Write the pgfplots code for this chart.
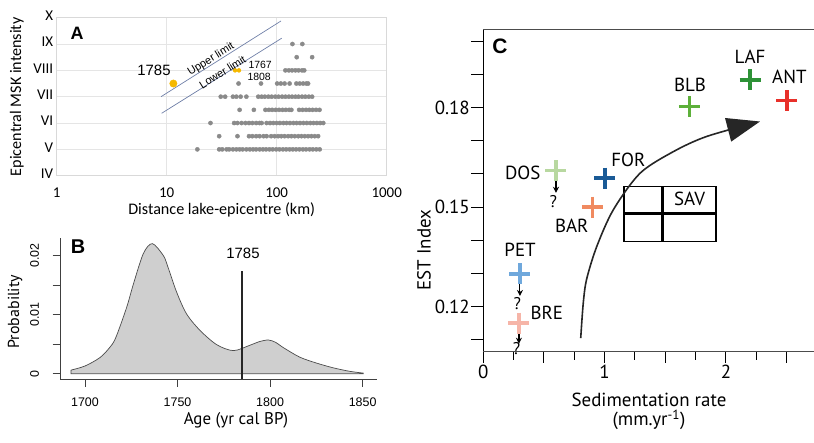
\documentclass[border=0pt]{standalone}
\usepackage{fontspec}
\setmainfont{Liberation Sans}
\newfontfamily\calf{Carlito}
\newfontfamily\myr{PT Sans}
\usepackage{pgfplots}
\pgfplotsset{compat=1.18}
\usetikzlibrary{arrows.meta}
\newcommand\fs[1]{\fontsize{#1}{#1}\selectfont}
\definecolor{pt}{HTML}{8A8A8A}
\definecolor{orng}{HTML}{F5B800}
\definecolor{lim}{HTML}{7080A8}
\definecolor{cLAF}{HTML}{2E9237}
\definecolor{cANT}{HTML}{E8302A}
\definecolor{cBLB}{HTML}{5DB03A}
\definecolor{cFOR}{HTML}{1A5A96}
\definecolor{cDOS}{HTML}{B8D8A0}
\definecolor{cBAR}{HTML}{F08A60}
\definecolor{cPET}{HTML}{6FA8DC}
\definecolor{cBRE}{HTML}{F6B5A8}
\begin{document}
\begin{tikzpicture}[x=1bp,y=1bp]
\useasboundingbox (0,0) rectangle (814,443);
%================ Panel A
\begin{axis}[at={(56.7bp,267.3bp)}, anchor=south west, scale only axis,
  width=330bp, height=158bp, clip=false,
  xmode=log, xmin=1, xmax=1000, ymin=4, ymax=10,
  xtick={1,10,100,1000}, xticklabels={1,10,100,1000},
  ytick={4,5,6,7,8,9,10}, yticklabels={IV,V,VI,VII,VIII,IX,X},
  major tick length=0pt, minor tick length=0pt,
  grid=major, major grid style={draw=gray!20, line width=0.6bp},
  axis line style={draw=gray!30, line width=0.6bp},
  ticklabel style={font=\calf\fs{15}},
  xticklabel style={yshift=-9bp},
  yticklabel style={yshift=2bp},
]
\addplot[only marks, color=pt, mark=*, mark size=2.1bp, mark options={draw=none, fill=pt}] coordinates {
(139,9) (171,9)
(152,8.5) (210,8.5)
(120,8) (129,8) (138,8) (148,8) (158,8) (170,8) (178,8)
(45,7.5) (72,7.5) (101,7.5) (109,7.5) (118,7.5) (131,7.5) (151,7.5) (162,7.5) (174,7.5) (186,7.5) (193,7.5)
(31,7) (34,7) (40,7) (43,7) (47,7) (53,7) (68,7) (73,7) (78,7) (84,7) (90,7) (97,7) (104,7) (112,7) (120,7) (129,7) (138,7) (148,7) (158,7) (170,7) (182,7) (196,7) (210,7)
(46,6.5) (62,6.5) (79,6.5) (85,6.5) (91,6.5) (98,6.5) (105,6.5) (113,6.5) (121,6.5) (130,6.5) (136,6.5) (160,6.5) (172,6.5) (185,6.5) (198,6.5) (212,6.5) (228,6.5) (245,6.5)
(25,6) (41,6) (44,6) (48,6) (52,6) (56,6) (60,6) (65,6) (70,6) (73,6) (81,6) (87,6) (93,6) (100,6) (107,6) (115,6) (123,6) (132,6) (142,6) (152,6) (163,6) (175,6) (188,6) (202,6) (216,6) (232,6) (248,6) (265,6)
(30,5.5) (44,5.5) (56,5.5) (60,5.5) (65,5.5) (70,5.5) (76,5.5) (81,5.5) (89,5.5) (96,5.5) (103,5.5) (110,5.5) (118,5.5) (127,5.5) (136,5.5) (146,5.5) (157,5.5) (168,5.5) (180,5.5) (193,5.5) (207,5.5) (222,5.5) (238,5.5)
(19,5) (30,5) (32,5) (35,5) (37,5) (40,5) (43,5) (46,5) (49,5) (53,5) (57,5) (61,5) (65,5) (70,5) (75,5) (80,5) (86,5) (92,5) (99,5) (106,5) (114,5) (122,5) (131,5) (140,5) (150,5) (161,5) (173,5) (185,5) (199,5) (213,5) (229,5) (246,5)
};
\addplot[only marks, color=orng, mark=*, mark size=3.7bp, mark options={draw=orng, fill=orng}] coordinates {(11.5,7.5)};
\addplot[only marks, color=orng, mark=*, mark size=2bp, mark options={draw=orng, fill=orng}] coordinates {(41.8,8) (45.4,8)};
\addplot[lim, line width=0.7bp] coordinates {(8.88,7.0) (109.4,9.875)};
\addplot[lim, line width=0.7bp] coordinates {(9.0,6.37) (111,9.22)};
\end{axis}
\node[font=\bfseries\fs{18}] at (77,410) {A};
\node[font=\fs{15}] at (154,373) {1785};
\node[font=\fs{10.5}, anchor=west] at (245,378) {1767};
\node[font=\fs{10.5}, anchor=west] at (244,366.3) {1808};
\node[font=\fs{11}, rotate=32, inner sep=0pt] at (211,383.5) {Upper limit};
\node[font=\fs{11}, rotate=32, inner sep=0pt] at (222.5,371) {Lower limit};
\node[font=\calf\fs{16.2}, rotate=90] at (16.7,346.3) {Epicentral MSK intensity};
\node[font=\calf\fs{16.2}] at (221.7,233) {Distance lake-epicentre (km)};
%================ Panel B
\begin{axis}[at={(60bp,63.7bp)}, anchor=south west, scale only axis,
  width=316.7bp, height=141bp, clip=false,
  xmin=1686.5, xmax=1857.6, ymin=-0.00095, ymax=0.0229,
  axis x line*=bottom, axis y line*=left,
  axis line style={-, line width=0.8bp, draw=black!75},
  tick align=outside, major tick length=7.5bp,
  tick style={line width=0.8bp, draw=black!75},
  xtick={1700,1750,1800,1850}, xticklabels={1700,1750,1800,1850},
  ytick={0,0.005,0.01,0.015,0.02}, yticklabels={0,,0.01,,0.02},
  scaled y ticks=false, scaled x ticks=false,
  ticklabel style={font=\fs{12.5}},
  xticklabel style={yshift=-7bp},
  yticklabel style={rotate=90, anchor=south, yshift=10bp},
]
\addplot[smooth, fill=gray!38, draw=black!70, line width=0.7bp] coordinates {
(1692.4,0.0006) (1700,0.0013) (1708,0.0027) (1713,0.0043) (1716.5,0.0060) (1722.5,0.0112)
(1726,0.0150) (1731.5,0.0203) (1736.4,0.0220) (1742.3,0.0200) (1744.2,0.0186) (1749.5,0.0138)
(1754.9,0.0101) (1762.2,0.0073) (1771.2,0.0049) (1780.2,0.0039) (1789,0.0048) (1794,0.0054)
(1799,0.0057) (1803,0.0053) (1807.2,0.0044) (1816,0.0028) (1825,0.0018) (1834,0.0010)
(1843,0.0004) (1850.3,0.0001)
} \closedcycle;
\addplot[black!85, line width=1.8bp] coordinates {(1784.9,-0.00095) (1784.9,0.0174)};
\end{axis}
\node[font=\bfseries\fs{20}] at (78,196.3) {B};
\node[font=\fs{15}] at (243,189.7) {1785};
\node[font=\myr\fs{16}, rotate=90] at (15,131.3) {Probability};
\node[font=\myr\fs{17}] at (236,23) {Age (yr cal BP)};
%================ Panel C
\begin{axis}[at={(483.3bp,92bp)}, anchor=south west, scale only axis,
  width=330.7bp, height=321.7bp, clip=false,
  xmin=0, xmax=2.726, ymin=0.1066, ymax=0.2036,
  axis x line*=bottom, axis y line*=left,
  x axis line style={-, line width=0.8bp, draw=black!70},
  y axis line style={-, line width=1.3bp, draw=black},
  tick align=outside,
  xtick={0,0.5,1,1.5,2,2.5}, xticklabels={0,,1,,2,},
  minor xtick={0.25,0.75,1.25,1.75,2.25},
  ytick={0.11,0.12,0.13,0.14,0.15,0.16,0.17,0.18,0.19,0.20},
  yticklabels={,0.12,,,0.15,,,0.18,,},
  scaled y ticks=false, scaled x ticks=false,
  x tick style={line width=1bp, black}, y tick style={line width=1bp, black},
  major tick length=12bp, minor tick length=9bp,
  ticklabel style={font=\myr\fs{19}},
  xticklabel style={yshift=1bp},
  yticklabel style={xshift=2bp},
]
\draw[black!70, line width=0.8bp] (rel axis cs:0,1) -- (rel axis cs:1,1);
% SAV box
\draw[line width=1.5bp] (axis cs:1.16,0.1396) rectangle (axis cs:1.918,0.1562);
\draw[line width=2.5bp] (axis cs:1.16,0.148) -- (axis cs:1.918,0.148);
\draw[line width=2.5bp] (axis cs:1.479,0.1396) -- (axis cs:1.479,0.1562);
\node[font=\myr\fs{19}] at (axis cs:1.70,0.1524) {SAV};
% curve
\addplot[smooth, line width=1.6bp, draw=black!85, -{Triangle[length=33bp, width=24bp]}] coordinates {
(0.803,0.1105) (0.824,0.1211) (0.852,0.1283) (0.935,0.1381) (1.072,0.1492) (1.292,0.1602) (1.566,0.1667) (1.842,0.1713) (2.281,0.1758)
};
% points
\addplot[only marks, mark=+, mark size=10.5bp, mark options={line width=3.6bp}, color=cLAF] coordinates {(2.199,0.1884)};
\addplot[only marks, mark=+, mark size=10.5bp, mark options={line width=3.6bp}, color=cANT] coordinates {(2.501,0.1821)};
\addplot[only marks, mark=+, mark size=10.5bp, mark options={line width=3.6bp}, color=cBLB] coordinates {(1.698,0.1803)};
\addplot[only marks, mark=+, mark size=10.5bp, mark options={line width=3.6bp}, color=cFOR] coordinates {(1.003,0.1587)};
\addplot[only marks, mark=+, mark size=10.5bp, mark options={line width=3.6bp}, color=cDOS] coordinates {(0.599,0.1610)};
\addplot[only marks, mark=+, mark size=10.5bp, mark options={line width=3.6bp}, color=cBAR] coordinates {(0.899,0.1500)};
\addplot[only marks, mark=+, mark size=10.5bp, mark options={line width=3.6bp}, color=cPET] coordinates {(0.302,0.1299)};
\addplot[only marks, mark=+, mark size=10.5bp, mark options={line width=3.6bp}, color=cBRE] coordinates {(0.294,0.1150)};
% small arrows
\draw[-{Stealth[length=6bp,width=6bp]}, line width=1.1bp] (axis cs:0.599,0.1590) -- (axis cs:0.599,0.1543);
\draw[-{Stealth[length=6bp,width=6bp]}, line width=1.1bp] (axis cs:0.302,0.1273) -- (axis cs:0.302,0.1232);
\draw[-{Stealth[length=6bp,width=6bp]}, line width=1.1bp] (axis cs:0.294,0.1126) -- (axis cs:0.294,0.1088);
\node[font=\myr\fs{17}] at (axis cs:0.577,0.1518) {?};
\node[font=\myr\fs{17}] at (axis cs:0.280,0.1208) {?};
\node[font=\myr\fs{17}] at (axis cs:0.275,0.1073) {?};
% labels
\node[font=\myr\fs{19}] at (axis cs:2.199,0.1954) {LAF};
\node[font=\myr\fs{19}] at (axis cs:2.523,0.1892) {ANT};
\node[font=\myr\fs{19}] at (axis cs:1.704,0.1868) {BLB};
\node[font=\myr\fs{19}] at (axis cs:1.195,0.1642) {FOR};
\node[font=\myr\fs{19}] at (axis cs:0.325,0.1604) {DOS};
\node[font=\myr\fs{19}] at (axis cs:0.729,0.1443) {BAR};
\node[font=\myr\fs{19}] at (axis cs:0.303,0.1371) {PET};
\node[font=\myr\fs{19}] at (axis cs:0.523,0.1180) {BRE};
\end{axis}
\node[font=\bfseries\fs{21}] at (500,397) {C};
\node[font=\myr\fs{19}, rotate=90] at (424,193) {EST Index};
\node[font=\myr\fs{19}] at (649,43) {Sedimentation rate};
\node[font=\myr\fs{19}] at (649,23) {(mm.yr\textsuperscript{-1})};
\end{tikzpicture}
\end{document}
